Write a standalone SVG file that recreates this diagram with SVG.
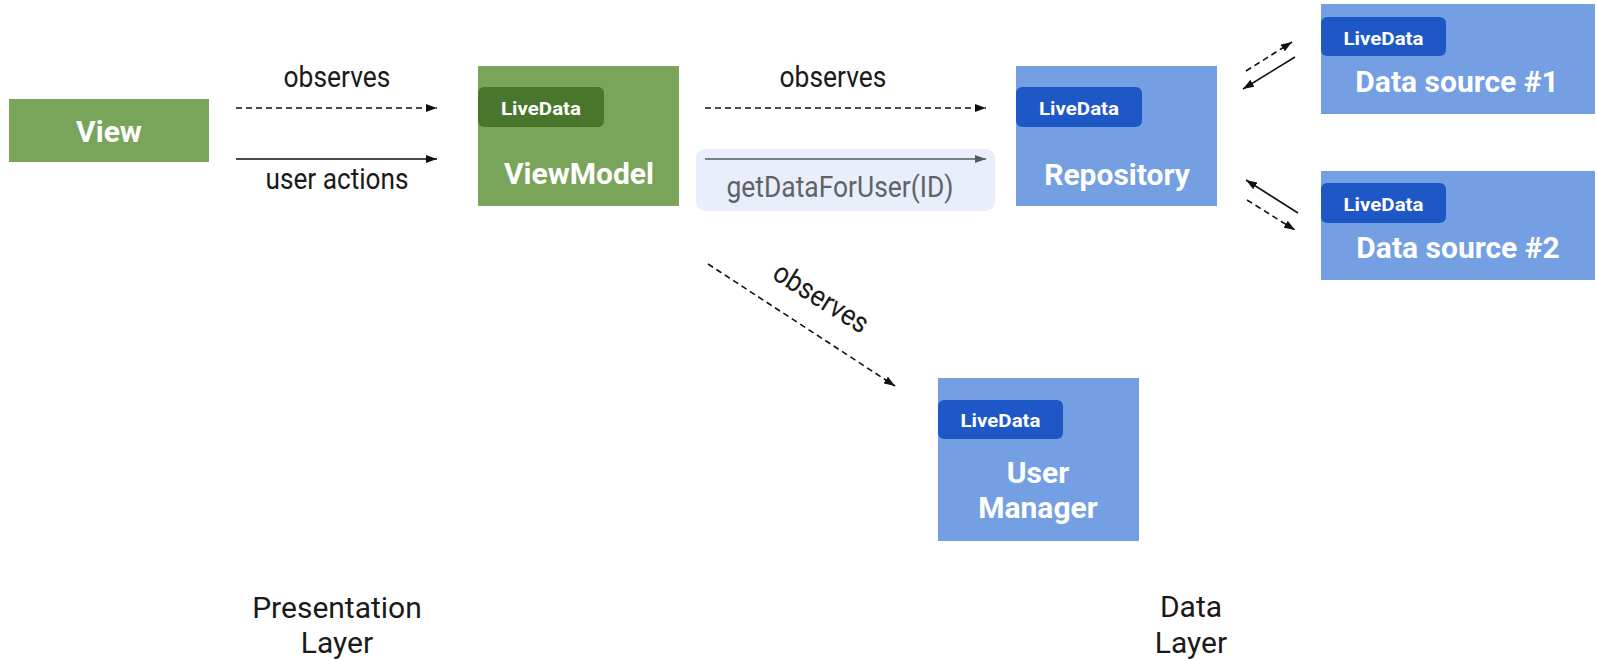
<svg xmlns="http://www.w3.org/2000/svg" width="1597" height="661" viewBox="0 0 1597 661">
  <style>
    .green { fill: #78a55a; }
    .green-pill { fill: #48762c; }
    .blue { fill: #74a0e3; }
    .blue-pill { fill: #1e58c6; }
    .box-label { font-family: Roboto, "Liberation Sans", sans-serif; font-weight: 700; font-size: 30px; fill: #ffffff; text-anchor: middle; }
    .pill-label { font-family: Roboto, "Liberation Sans", sans-serif; font-weight: 700; font-size: 18.5px; fill: #ffffff; text-anchor: middle; }
    .edge-label { font-family: Roboto, "Liberation Sans", sans-serif; font-size: 29px; fill: #1a1a1a; text-anchor: middle; }
    .call-label { font-family: Roboto, "Liberation Sans", sans-serif; font-size: 29px; fill: #5f6368; text-anchor: middle; }
    .layer-label { font-family: Roboto, "Liberation Sans", sans-serif; font-size: 30px; fill: #1a1a1a; text-anchor: middle; }
    .solid { stroke: #111111; stroke-width: 1.6; fill: none; }
    .dashed { stroke: #111111; stroke-width: 1.6; fill: none; stroke-dasharray: 6 4; }
    .call { stroke: #555b63; stroke-width: 1.6; fill: none; }
  </style>
  <defs>
    <marker id="head" markerUnits="userSpaceOnUse" markerWidth="11" markerHeight="8" refX="11" refY="4" orient="auto">
      <path d="M0,0 L11,4 L0,8 z" fill="#111111"/>
    </marker>
    <marker id="head-gray" markerUnits="userSpaceOnUse" markerWidth="11" markerHeight="8" refX="11" refY="4" orient="auto">
      <path d="M0,0 L11,4 L0,8 z" fill="#555b63"/>
    </marker>
  </defs>

  <rect width="1597" height="661" fill="#ffffff"/>

  <!-- call bubble behind the getDataForUser arrow -->
  <rect x="696" y="149" width="299" height="62" rx="9" fill="#e8eefa"/>

  <!-- connectors -->
  <g id="connectors">
    <line class="dashed" x1="236" y1="108" x2="437" y2="108" marker-end="url(#head)"/>
    <line class="solid" x1="236" y1="159" x2="437" y2="159" marker-end="url(#head)"/>
    <line class="dashed" x1="705" y1="108" x2="986" y2="108" marker-end="url(#head)"/>
    <line class="call" x1="705" y1="159" x2="986" y2="159" marker-end="url(#head-gray)"/>
    <line class="dashed" x1="708" y1="264" x2="895" y2="386" marker-end="url(#head)"/>
    <line class="dashed" x1="1246" y1="71" x2="1292" y2="42" marker-end="url(#head)"/>
    <line class="solid" x1="1295" y1="57" x2="1243" y2="89" marker-end="url(#head)"/>
    <line class="solid" x1="1298" y1="213" x2="1246" y2="180" marker-end="url(#head)"/>
    <line class="dashed" x1="1247" y1="200" x2="1295" y2="230" marker-end="url(#head)"/>

    <text class="edge-label" x="337" y="87" textLength="107" lengthAdjust="spacingAndGlyphs">observes</text>
    <text class="edge-label" x="337" y="189" textLength="143" lengthAdjust="spacingAndGlyphs">user actions</text>
    <text class="edge-label" x="833" y="87" textLength="107" lengthAdjust="spacingAndGlyphs">observes</text>
    <text class="call-label" x="840" y="197" textLength="227" lengthAdjust="spacingAndGlyphs">getDataForUser(ID)</text>
    <text class="edge-label" transform="translate(816,306) rotate(32)" textLength="107" lengthAdjust="spacingAndGlyphs">observes</text>
  </g>

  <!-- nodes -->
  <g id="view">
    <rect class="green" x="9" y="99" width="200" height="63"/>
    <text class="box-label" x="109" y="142">View</text>
  </g>

  <g id="viewmodel">
    <rect class="green" x="478" y="66" width="201" height="140"/>
    <rect class="green-pill" x="478" y="87" width="126" height="40" rx="6"/>
    <text class="pill-label" x="541" y="115" textLength="80" lengthAdjust="spacingAndGlyphs">LiveData</text>
    <text class="box-label" x="579" y="184">ViewModel</text>
  </g>

  <g id="repository">
    <rect class="blue" x="1016" y="66" width="201" height="140"/>
    <rect class="blue-pill" x="1016" y="87" width="126" height="40" rx="6"/>
    <text class="pill-label" x="1079" y="114.5" textLength="80" lengthAdjust="spacingAndGlyphs">LiveData</text>
    <text class="box-label" x="1117" y="185">Repository</text>
  </g>

  <g id="data-source-1">
    <rect class="blue" x="1321" y="4" width="274" height="110"/>
    <rect class="blue-pill" x="1321" y="17" width="125" height="39" rx="6"/>
    <text class="pill-label" x="1383.5" y="44.5" textLength="80" lengthAdjust="spacingAndGlyphs">LiveData</text>
    <text class="box-label" x="1457" y="92">Data source #1</text>
  </g>

  <g id="data-source-2">
    <rect class="blue" x="1321" y="171" width="274" height="109"/>
    <rect class="blue-pill" x="1321" y="183" width="125" height="40" rx="6"/>
    <text class="pill-label" x="1383.5" y="211" textLength="80" lengthAdjust="spacingAndGlyphs">LiveData</text>
    <text class="box-label" x="1458" y="258">Data source #2</text>
  </g>

  <g id="user-manager">
    <rect class="blue" x="938" y="378" width="201" height="163"/>
    <rect class="blue-pill" x="938" y="400" width="125" height="39" rx="6"/>
    <text class="pill-label" x="1000.5" y="427" textLength="80" lengthAdjust="spacingAndGlyphs">LiveData</text>
    <text class="box-label" x="1038" y="483">User</text>
    <text class="box-label" x="1038" y="518">Manager</text>
  </g>

  <!-- layer captions -->
  <g id="layer-labels">
    <text class="layer-label" x="337" y="618">Presentation</text>
    <text class="layer-label" x="337" y="653">Layer</text>
    <text class="layer-label" x="1191" y="617">Data</text>
    <text class="layer-label" x="1191" y="653">Layer</text>
  </g>
</svg>
